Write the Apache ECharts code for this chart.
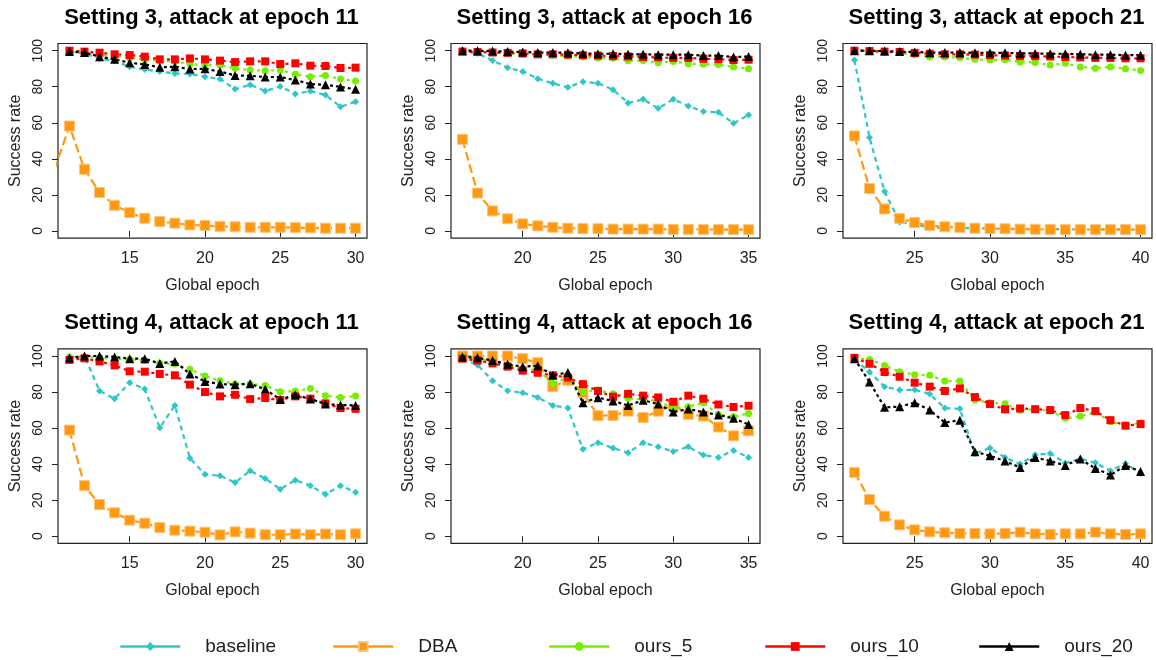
<!DOCTYPE html>
<html>
<head>
<meta charset="utf-8">
<script src="https://cdn.jsdelivr.net/npm/echarts@6/dist/echarts.min.js"></script>
<style>
html,body{margin:0;padding:0;background:#fff;}
#chart{width:1156px;height:660px;}
</style>
</head>
<body>
<div id="chart"></div>
<script>
// ---------- data ----------
const seriesNames = ['baseline', 'DBA', 'ours_5', 'ours_10', 'ours_20'];
const panelTitles = [
  'Setting 3, attack at epoch 11', 'Setting 3, attack at epoch 16', 'Setting 3, attack at epoch 21',
  'Setting 4, attack at epoch 11', 'Setting 4, attack at epoch 16', 'Setting 4, attack at epoch 21'
];
const xTicksA = [15, 20, 25, 30];
const xTicksB = [20, 25, 30, 35];
const xTicksC = [25, 30, 35, 40];
const yTicks = [0, 20, 40, 60, 80, 100];

const epochs11 = [11,12,13,14,15,16,17,18,19,20,21,22,23,24,25,26,27,28,29,30];
const epochs10 = [10,11,12,13,14,15,16,17,18,19,20,21,22,23,24,25,26,27,28,29,30];
const epochs16 = [16,17,18,19,20,21,22,23,24,25,26,27,28,29,30,31,32,33,34,35];
const epochs21 = [21,22,23,24,25,26,27,28,29,30,31,32,33,34,35,36,37,38,39,40];

// Setting 3, attack at epoch 11
const s3e11_baseline = [99.5,98.5,95.6,94.3,91.1,89.6,88.4,87.4,87.1,85.6,84.3,78.7,81.1,77.6,80.2,76.0,77.6,75.4,68.9,71.7];
const s3e11_DBA      = [34,58.2,34.2,21.3,14.2,10.2,7.0,5.2,4.3,3.3,3.0,2.5,2.3,2.0,2.0,2.0,1.8,1.7,1.5,1.5,1.5];
const s3e11_ours5    = [100,99.5,98.0,97.0,96.0,95.0,94.5,94.0,92.6,92.0,92.0,90.2,89.3,88.9,89.3,86.9,85.6,86.3,84.3,83.2];
const s3e11_ours10   = [100,99.5,98.9,98.0,97.6,96.7,95.2,95.2,95.7,95.2,94.5,93.7,94.1,94.1,92.6,93.0,91.7,91.5,90.4,90.6];
const s3e11_ours20   = [99.5,99.0,96.7,95.2,93.3,92.4,90.8,91.1,89.8,90.0,88.4,86.3,86.1,85.4,85.4,83.7,81.5,81.1,79.9,78.6];

// Setting 3, attack at epoch 16
const s3e16_baseline = [100,98.5,94.6,90.6,88.5,84.5,81.9,79.7,82.8,81.9,78.4,71.0,73.0,68.0,73.0,69.3,66.2,65.8,59.7,64.3];
const s3e16_DBA      = [50.8,21.0,11.1,6.7,3.9,2.8,2.0,1.5,1.3,1.2,1.0,1.0,1.0,1.0,0.8,0.8,0.8,0.7,0.7,0.7];
const s3e16_ours5    = [100,99.5,99.0,98.5,98.0,97.8,97.5,97.0,96.5,96.0,95.8,94.5,94.5,93.3,94.0,92.8,92.5,92.3,91.0,90.0];
const s3e16_ours10   = [99.5,99.3,99.0,98.8,98.5,98.0,98.0,97.8,97.5,97.3,97.0,96.8,96.5,96.3,96.0,96.0,95.5,95.3,94.8,95.0];
const s3e16_ours20   = [100,100,99.8,99.5,99.3,99.0,99.0,98.8,98.5,98.3,98.3,98.0,98.0,97.8,97.8,97.8,97.3,97.3,96.5,96.8];

// Setting 3, attack at epoch 21
const s3e21_baseline = [94.8,51.8,21.8,5.0,3.9,1.5,1.8,1.7,1.5,1.3,1.2,1.0,1.0,1.0,0.9,0.9,0.8,0.8,0.8,0.7];
const s3e21_DBA      = [52.7,23.5,12.2,7.0,4.6,3.0,2.3,2.0,1.5,1.3,1.2,1.0,0.9,0.8,0.7,0.7,0.7,0.7,0.7,0.7];
const s3e21_ours5    = [100,100,99.3,98.8,97.8,96.5,96.5,96.2,95.2,94.8,95.0,93.8,93.5,92.0,93.0,91.0,90.3,91.0,90.0,89.0];
const s3e21_ours10   = [100,99.8,99.5,99.3,98.8,98.3,98.0,98.0,97.8,97.5,97.3,97.0,97.0,96.8,96.5,96.3,96.0,96.0,95.8,95.8];
const s3e21_ours20   = [100,100,99.8,99.5,99.3,99.0,99.0,99.0,98.8,98.8,98.8,98.5,98.5,98.3,98.3,98.0,97.8,97.8,97.5,97.5];

// Setting 4, attack at epoch 11
const s4e11_baseline = [99,100,80.6,76.3,85.2,81.7,60.2,72.6,43.3,34.4,33.5,29.8,36.3,32.0,26.1,31.1,28.0,23.3,28.0,24.4];
const s4e11_DBA      = [58.9,28.0,17.6,13.0,8.9,7.2,4.8,3.3,2.8,2.2,0.7,2.4,1.7,0.8,0.8,1.2,0.8,1.2,0.8,1.3];
const s4e11_ours5    = [99.5,99.5,99.0,98.5,98.0,97.5,96.0,95.5,92.6,88.9,86.3,84.5,84.5,83.7,80.2,80.6,81.9,78.0,77.0,77.8];
const s4e11_ours10   = [97.8,98.7,97.0,94.8,91.5,91.3,90.0,89.3,84.1,80.0,77.6,78.5,76.1,76.7,75.6,77.6,76.3,73.7,71.1,70.7];
const s4e11_ours20   = [98.9,100,100,99.5,98.5,98.5,95.9,97.0,90.0,85.9,84.4,84.1,84.6,81.5,75.9,78.5,76.1,73.3,72.8,72.6];

// Setting 4, attack at epoch 16
const s4e16_baseline = [98.5,95.0,86.3,80.7,79.6,77.0,72.6,71.1,48.3,51.9,48.9,46.3,51.9,49.6,47.0,49.6,45.0,43.7,47.6,43.7];
const s4e16_DBA      = [100,100,100,100,98.5,96.3,83.0,86.5,79.6,66.9,67.0,69.4,65.9,69.4,72.8,67.6,66.7,60.6,55.7,58.5];
const s4e16_ours5    = [99.5,98.5,97.0,95.0,93.0,92.2,84.8,88.1,80.2,81.1,79.0,76.5,75.9,75.0,71.1,71.9,74.1,67.6,66.3,68.1];
const s4e16_ours10   = [98.5,97.5,95.9,94.1,91.9,90.7,89.3,88.1,84.4,80.6,77.4,79.0,78.0,77.0,74.6,78.0,76.3,73.1,71.7,72.4];
const s4e16_ours20   = [99.5,99.0,97.5,95.4,94.1,94.6,89.3,90.9,74.1,76.9,75.0,72.6,75.4,73.3,68.9,70.6,68.9,67.2,65.4,62.0];

// Setting 4, attack at epoch 21
const s4e21_baseline = [98.1,91.1,83.0,81.1,81.3,78.9,71.1,70.7,45.9,48.9,43.7,40.0,45.2,45.9,40.6,43.0,40.7,36.3,40.4,34.8];
const s4e21_DBA      = [35.4,20.4,11.1,6.3,3.5,2.4,1.9,1.5,1.5,1.3,1.5,2.2,1.3,1.0,1.3,1.3,2.2,1.3,1.0,1.3];
const s4e21_ours5    = [99.0,98.1,94.8,91.3,89.6,89.3,86.1,86.1,75.6,74.1,73.5,69.8,70.5,69.5,65.4,66.5,69.0,63.5,61.5,63.0];
const s4e21_ours10   = [99.0,95.7,91.1,88.5,85.2,83.0,80.6,82.0,77.2,73.3,70.4,70.9,70.5,70.0,67.2,71.1,69.4,64.4,61.3,62.2];
const s4e21_ours20   = [98.5,85.6,71.5,71.9,74.1,70.0,63.1,64.3,46.9,44.6,41.7,38.1,43.7,41.7,39.3,42.8,37.6,33.9,39.3,35.9];

// ---------- build ----------
const panels = [
  {x: [epochs11, epochs10, epochs11, epochs11, epochs11], y: [s3e11_baseline, s3e11_DBA, s3e11_ours5, s3e11_ours10, s3e11_ours20], range: [11, 30], ticks: xTicksA},
  {x: [epochs16, epochs16, epochs16, epochs16, epochs16], y: [s3e16_baseline, s3e16_DBA, s3e16_ours5, s3e16_ours10, s3e16_ours20], range: [16, 35], ticks: xTicksB},
  {x: [epochs21, epochs21, epochs21, epochs21, epochs21], y: [s3e21_baseline, s3e21_DBA, s3e21_ours5, s3e21_ours10, s3e21_ours20], range: [21, 40], ticks: xTicksC},
  {x: [epochs11, epochs11, epochs11, epochs11, epochs11], y: [s4e11_baseline, s4e11_DBA, s4e11_ours5, s4e11_ours10, s4e11_ours20], range: [11, 30], ticks: xTicksA},
  {x: [epochs16, epochs16, epochs16, epochs16, epochs16], y: [s4e16_baseline, s4e16_DBA, s4e16_ours5, s4e16_ours10, s4e16_ours20], range: [16, 35], ticks: xTicksB},
  {x: [epochs21, epochs21, epochs21, epochs21, epochs21], y: [s4e21_baseline, s4e21_DBA, s4e21_ours5, s4e21_ours10, s4e21_ours20], range: [21, 40], ticks: xTicksC}
];

const styles = [
  {color: '#2EC7C9', symbol: 'diamond', size: 7, dash: [5, 4], border: null},
  {color: '#FF9912', symbol: 'rect', size: 10, dash: [9, 4], border: '#FFC477'},
  {color: '#77EE00', symbol: 'circle', size: 7, dash: [3, 4], border: null},
  {color: '#FF0000', symbol: 'rect', size: 8, dash: [3, 4], border: null},
  {color: '#000000', symbol: 'triangle', size: 9, dash: [3, 3], border: null}
];

const colLeft = [58, 451, 843];
const rowTop = [43.5, 348.8];
const gridW = 309, gridH = 194.6;
const FONT = '"Liberation Sans", Arial, Helvetica, sans-serif';

const grids = [], xAxes = [], yAxes = [], titles = [], series = [];
panels.forEach((p, i) => {
  const c = i % 3, r = Math.floor(i / 3);
  grids.push({left: colLeft[c], top: rowTop[r], width: gridW, height: gridH, show: true, borderColor: '#222', borderWidth: 1.2, backgroundColor: 'transparent'});
  const pad = (p.range[1] - p.range[0]) * 0.04;
  xAxes.push({
    type: 'value', gridIndex: i, min: p.range[0] - pad, max: p.range[1] + pad,
    axisLine: {show: false},
    splitLine: {show: false},
    axisTick: {show: true, inside: false, length: 6, customValues: p.ticks, lineStyle: {color: '#222'}},
    axisLabel: {customValues: p.ticks, margin: 12, fontSize: 16, color: '#222', fontFamily: FONT},
    name: 'Global epoch', nameLocation: 'middle', nameGap: 39,
    nameTextStyle: {fontSize: 16, color: '#222', fontFamily: FONT}
  });
  yAxes.push({
    type: 'value', gridIndex: i, min: -4, max: 104,
    axisLine: {show: false},
    splitLine: {show: false},
    axisTick: {show: true, inside: false, length: 6, customValues: yTicks, lineStyle: {color: '#222'}},
    axisLabel: {customValues: yTicks, margin: 13, rotate: 90, fontSize: 14, color: '#222', fontFamily: FONT},
    name: 'Success rate', nameLocation: 'middle', nameGap: 34,
    nameTextStyle: {fontSize: 16, color: '#222', fontFamily: FONT}
  });
  titles.push({
    text: panelTitles[i], left: colLeft[c] + gridW / 2 - 1, top: r === 0 ? 7 : 312, textAlign: 'center', padding: 0,
    textStyle: {fontSize: 22, fontWeight: 'bold', color: '#000', fontFamily: FONT}
  });
  seriesNames.forEach((name, k) => {
    const st = styles[k];
    const xs = p.x[k], ys = p.y[k];
    const data = xs.map((xv, j) => [xv, ys[j]]);
    series.push({
      type: 'line', name: name, xAxisIndex: i, yAxisIndex: i, data: data, clip: true,
      symbol: st.symbol, symbolSize: st.size, showSymbol: true, animation: false,
      lineStyle: {color: st.color, width: 2.2, type: st.dash},
      itemStyle: {color: st.color, borderColor: st.border || st.color, borderWidth: st.border ? 1 : 0, opacity: 1},
      z: 2 + k
    });
  });
});

const legendX = [114, 327, 543, 759, 973];
const legends = seriesNames.map((name, k) => ({
  data: [name], left: legendX[k], top: 632, itemWidth: 60, itemHeight: 11,
  lineStyle: {type: 'solid', width: 2.5},
  textStyle: {fontSize: 19, color: '#222', fontFamily: FONT, padding: [0, 0, 0, 20]},
  selectedMode: false
}));

const chart = echarts.init(document.getElementById('chart'), null, {renderer: 'canvas'});
chart.setOption({
  animation: false,
  backgroundColor: '#fff',
  title: titles,
  grid: grids,
  xAxis: xAxes,
  yAxis: yAxes,
  legend: legends,
  series: series
});
</script>
</body>
</html>
